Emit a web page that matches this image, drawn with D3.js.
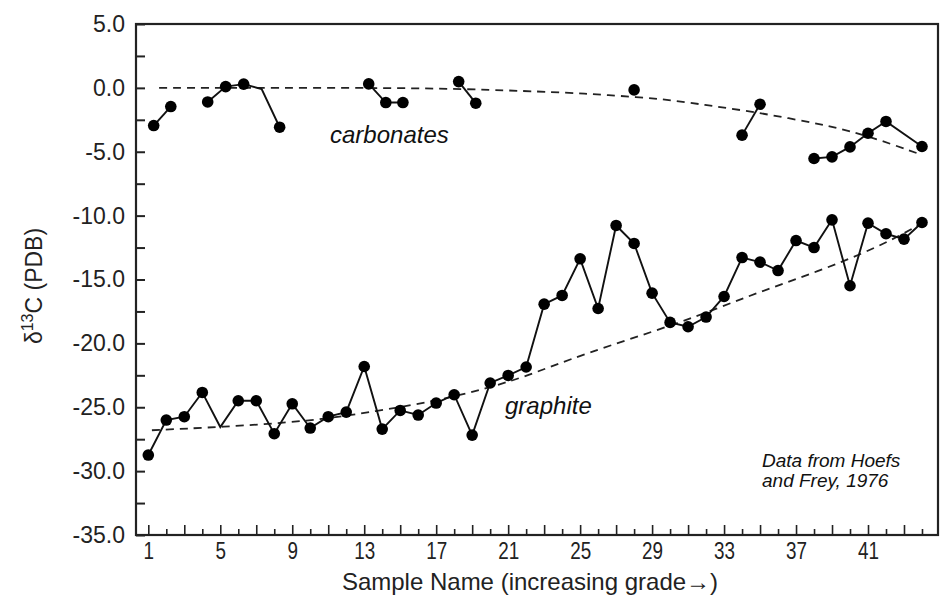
<!DOCTYPE html>
<html>
<head>
<meta charset="utf-8">
<script src="https://cdn.jsdelivr.net/npm/d3@7"></script>
<style>
    body { margin: 0; background: #fff; }
    svg { font-family: "Liberation Sans", Arial, Helvetica, sans-serif; }
</style>
</head>
<body>
<div id="chart"></div>
<script>
// graphite, one value per sample 1..44
var graphite = [-28.74, -26.0, -25.74, -23.84, -26.55, -24.49, -24.49, -27.07, -24.73, -26.63,
    -25.74, -25.38, -21.81, -26.71, -25.25, -25.61, -24.67, -24.02, -27.18, -23.1, -22.51, -21.85,
    -16.93, -16.25, -13.38, -17.27, -10.77, -12.18, -16.07, -18.36, -18.7, -17.94, -16.33, -13.28,
    -13.64, -14.3, -11.95, -12.5, -10.33, -15.49, -10.59, -11.42, -11.84, -10.54];
var graphiteNoDot = [5];

// carbonates, read where the dots sit
var carbSample = [1.3, 2.25, 4.3, 5.3, 6.3, 7.3, 8.3, 13.25, 14.2, 15.15, 18.25, 19.2,
    28, 34, 35, 38, 39, 40, 41, 42, 44];
var carbValue = [-2.95, -1.46, -1.10, 0.10, 0.29, -0.10, -3.08, 0.31, -1.15, -1.15, 0.49, -1.20,
    -0.16, -3.70, -1.28, -5.53, -5.40, -4.62, -3.55, -2.63, -4.59];
var carbGroup = [1, 1, 2, 2, 2, 2, 2, 3, 3, 3, 4, 4, 5, 6, 6, 7, 7, 7, 7, 7, 7];
var carbNoDot = [7.3];

// dashed trend curves
var carbTrendX = [1.6, 8, 16.3, 21.1, 24.2, 26.4, 29.6, 31.9, 34.2, 36.6, 38.9, 41, 43.7];
var carbTrendY = [0, 0, 0, -0.2, -0.37, -0.55, -0.86, -1.33, -1.78, -2.37, -3.0, -3.75, -5.1];
var graphTrendX = [1.2, 5, 10, 13.7, 17, 19.6, 22, 25, 30.6, 34.3, 38, 41.7, 44];
var graphTrendY = [-26.8, -26.55, -26.1, -25.3, -24.5, -23.6, -22.6, -20.9, -18.4, -16.3, -14.5, -12.4, -10.6];

var yTicks = d3.range(-35, 5.01, 2.5);
var xTicks = d3.range(1, 45);

var width = 940, height = 603;
var plotL = 136, plotR = 938, plotT = 24, plotB = 535;

var svg = d3.select('#chart').append('svg')
    .attr('width', width)
    .attr('height', height);

var x = d3.scaleLinear().domain([0.316, 44.89]).range([plotL, plotR]);
var y = d3.scaleLinear().domain([-35, 5]).range([plotB, plotT]);

// y axis, ticks pointing in
var yAxis = svg.append('g')
    .attr('transform', 'translate(' + plotL + ',0)')
    .call(d3.axisLeft(y)
        .tickValues(yTicks)
        .tickSize(-9)
        .tickPadding(11)
        .tickFormat(function (d) { return d % 5 === 0 ? d.toFixed(1) : ''; }));
yAxis.select('.domain').remove();
yAxis.selectAll('line').attr('stroke', '#222').attr('stroke-width', 2);
yAxis.selectAll('text')
    .attr('fill', '#222')
    .style('font-size', '23px');

// x axis: long ticks on odd samples, short on even
var xAxis = svg.append('g')
    .attr('transform', 'translate(0,' + plotB + ')')
    .call(d3.axisBottom(x)
        .tickValues(xTicks)
        .tickSize(-10)
        .tickPadding(8)
        .tickFormat(function (d) { return (d - 1) % 4 === 0 ? d : ''; }));
xAxis.select('.domain').remove();
xAxis.selectAll('line')
    .attr('stroke', '#222')
    .attr('stroke-width', 1.6)
    .attr('y2', function (d) { return d % 2 === 1 ? -10 : -6; });
xAxis.selectAll('text')
    .attr('fill', '#222')
    .attr('transform', 'scale(0.82,1)')
    .style('font-size', '23px');

svg.append('rect')
    .attr('x', plotL)
    .attr('y', plotT)
    .attr('width', plotR - plotL)
    .attr('height', plotB - plotT)
    .attr('fill', 'none')
    .attr('stroke', '#222')
    .attr('stroke-width', 2.2);

// trend lines
var trend = d3.line()
    .x(function (d) { return x(d[0]); })
    .y(function (d) { return y(d[1]); })
    .curve(d3.curveBasis);

[[carbTrendX, carbTrendY], [graphTrendX, graphTrendY]].forEach(function (t) {
    svg.append('path')
        .datum(d3.zip(t[0], t[1]))
        .attr('d', trend)
        .attr('fill', 'none')
        .attr('stroke', '#222')
        .attr('stroke-width', 1.8)
        .attr('stroke-dasharray', '8,6');
});

var line = d3.line()
    .x(function (d) { return x(d[0]); })
    .y(function (d) { return y(d[1]); });

var graphPts = graphite.map(function (v, i) { return [i + 1, v]; });
var carbPts = carbSample.map(function (s, i) { return [s, carbValue[i], carbGroup[i]]; });

svg.append('path')
    .datum(graphPts)
    .attr('d', line)
    .attr('fill', 'none')
    .attr('stroke', '#111')
    .attr('stroke-width', 1.9);

d3.groups(carbPts, function (d) { return d[2]; }).forEach(function (g) {
    if (g[1].length < 2) return;
    svg.append('path')
        .datum(g[1])
        .attr('d', line)
        .attr('fill', 'none')
        .attr('stroke', '#111')
        .attr('stroke-width', 1.9);
});

var dots = graphPts.filter(function (d) { return graphiteNoDot.indexOf(d[0]) === -1; })
    .concat(carbPts.filter(function (d) { return carbNoDot.indexOf(d[0]) === -1; }));

svg.selectAll('circle.dot')
    .data(dots)
    .enter().append('circle')
    .attr('class', 'dot')
    .attr('cx', function (d) { return x(d[0]); })
    .attr('cy', function (d) { return y(d[1]); })
    .attr('r', 5.8)
    .attr('fill', '#000');

// labels
svg.append('text')
    .attr('x', 330)
    .attr('y', 143)
    .style('font-size', '24px')
    .style('font-style', 'italic')
    .attr('fill', '#111')
    .text('carbonates');

svg.append('text')
    .attr('x', 505)
    .attr('y', 414)
    .style('font-size', '24px')
    .style('font-style', 'italic')
    .attr('fill', '#111')
    .text('graphite');

var note = svg.append('text')
    .attr('x', 762)
    .attr('y', 467)
    .style('font-size', '19px')
    .style('font-style', 'italic')
    .attr('fill', '#111');
note.append('tspan').attr('x', 762).text('Data from Hoefs');
note.append('tspan').attr('x', 762).attr('dy', 20).text('and Frey, 1976');

svg.append('text')
    .attr('x', 530)
    .attr('y', 590)
    .attr('text-anchor', 'middle')
    .style('font-size', '24px')
    .attr('fill', '#222')
    .text('Sample Name (increasing grade\u2192)');

var yTitle = svg.append('text')
    .attr('transform', 'translate(42,286) rotate(-90)')
    .attr('text-anchor', 'middle')
    .style('font-size', '23px')
    .attr('fill', '#222');
yTitle.append('tspan').text('\u03b4');
yTitle.append('tspan').attr('dy', -9).style('font-size', '16px').text('13');
yTitle.append('tspan').attr('dy', 9).text('C (PDB)');
</script>
</body>
</html>
